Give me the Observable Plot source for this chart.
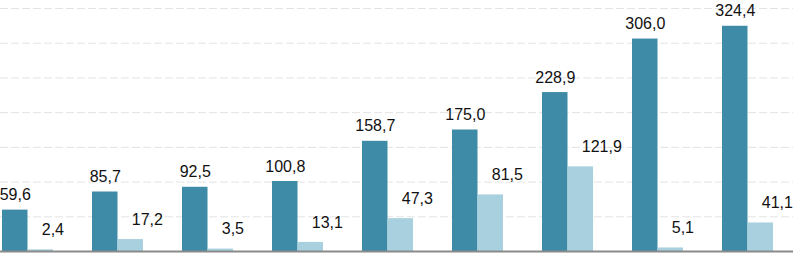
<!DOCTYPE html>
<html>
<head>
<meta charset="utf-8">
<script src="https://cdn.jsdelivr.net/npm/d3@7"></script>
<script src="https://cdn.jsdelivr.net/npm/@observablehq/plot@0.6"></script>
<style>
  html, body { margin: 0; padding: 0; background: #fff; }
</style>
</head>
<body>
<div id="chart"></div>
<script>
const categories = ["1", "2", "3", "4", "5", "6", "7", "8", "9"];
const seriesA = [59.6, 85.7, 92.5, 100.8, 158.7, 175.0, 228.9, 306.0, 324.4];
const seriesB = [2.4, 17.2, 3.5, 13.1, 47.3, 81.5, 121.9, 5.1, 41.1];
const gridTicks = [50, 100, 150, 200, 250, 300, 350];

const rows = categories.map((c, i) => ({cat: c, a: seriesA[i], b: seriesB[i]}));
const fmt = v => v.toFixed(1).replace(".", ",");

const half = 25.5;

const chart = Plot.plot({
  width: 793,
  height: 253,
  marginLeft: 0,
  marginRight: 0,
  marginTop: 8,
  marginBottom: 2,
  style: {fontFamily: "'Liberation Sans', Arial, sans-serif", background: "#fff"},
  x: {type: "band", domain: categories, paddingInner: 0.4333, paddingOuter: 0.1222, align: 0.1136, axis: null},
  y: {domain: [0, 350], axis: null},
  marks: [
    Plot.ruleY(gridTicks, {stroke: "#e3e3e3", strokeDasharray: "8,3", strokeWidth: 1}),
    Plot.barY(rows, {x: "cat", y: "a", fill: "#3d8ba6", insetRight: half}),
    Plot.barY(rows, {x: "cat", y: "b", fill: "#a8d0df", insetLeft: half}),
    Plot.ruleY([0], {stroke: "#8a8a8a", strokeWidth: 2}),
    Plot.text(rows, {x: "cat", y: "a", text: d => fmt(d.a), dx: -half / 2, dy: -15, fontSize: 16, fill: "#111"}),
    Plot.text(rows, {x: "cat", y: "b", text: d => fmt(d.b), dx: half / 2 + 1, dy: -20, textAnchor: "start", fontSize: 16, fill: "#111"})
  ]
});
document.getElementById("chart").appendChild(chart);
</script>
</body>
</html>
